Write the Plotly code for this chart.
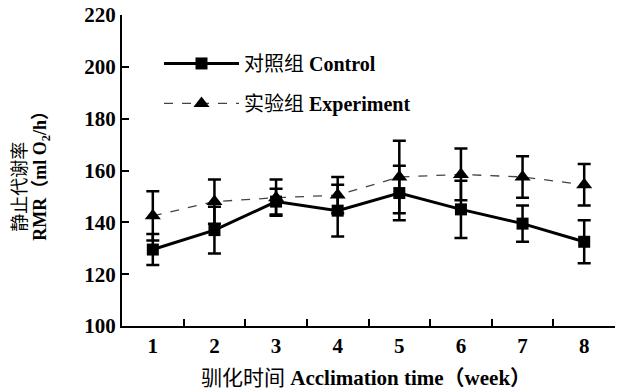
import plotly.graph_objects as go

weeks = ["1", "2", "3", "4", "5", "6", "7", "8"]
control = [129.5, 137.0, 148.0, 144.5, 151.3, 145.0, 139.5, 132.5]
control_err = [6.0, 9.0, 5.0, 10.0, 10.5, 11.0, 7.0, 8.3]
experiment = [142.5, 148.0, 149.5, 150.5, 157.5, 158.5, 157.5, 154.5]
experiment_err = [9.5, 8.5, 7.0, 7.0, 14.0, 10.0, 8.0, 8.0]
y_ticks = [100, 120, 140, 160, 180, 200, 220]

FONT = "Liberation Serif, Noto Sans CJK SC, serif"

W, H = 624, 392
L, T = 122, 15
R = W - 615
B = H - 326.5
pw = W - L - R
ph = H - T - B


def px(xp):
    return (xp - L) / pw


def py(yp):
    return 1 - (yp - T) / ph


fig = go.Figure()
fig.add_trace(go.Scatter(
    x=weeks, y=experiment, name="实验组 <b>Experiment</b>", mode="lines+markers",
    line=dict(color="#444444", width=1.3, dash="dash"),
    marker=dict(symbol="triangle-up", size=14, color="black"),
    error_y=dict(type="data", array=experiment_err, visible=True, color="black", thickness=2.5, width=6.5),
    legendrank=2, legendgroup="b",
))
fig.add_trace(go.Scatter(
    x=weeks, y=control, name="对照组 <b>Control</b>", mode="lines+markers",
    line=dict(color="black", width=3),
    marker=dict(symbol="square", size=12, color="black"),
    error_y=dict(type="data", array=control_err, visible=True, color="black", thickness=2.5, width=6.5),
    legendrank=1, legendgroup="a",
))

fig.update_layout(
    width=W, height=H,
    margin=dict(l=L, r=R, t=T, b=B),
    paper_bgcolor="white", plot_bgcolor="white",
    font=dict(family=FONT, size=18, color="black"),
    showlegend=True,
    legend=dict(x=px(159), y=py(44), xanchor="left", yanchor="top",
                bgcolor="rgba(0,0,0,0)", tracegroupgap=11, itemwidth=75,
                font=dict(size=20, family=FONT), traceorder="grouped"),
    xaxis=dict(type="category", range=[-0.5, 7.5], tickson="boundaries",
               ticks="inside", ticklen=7, tickwidth=1.5, tickcolor="black",
               showline=True, linecolor="black", linewidth=2, showgrid=False,
               zeroline=False, automargin=False,
               tickfont=dict(size=21, family=FONT, weight="bold")),
    yaxis=dict(range=[100, 220], tickvals=y_ticks,
               ticks="inside", ticklen=7, tickwidth=1.5, tickcolor="black",
               showline=True, linecolor="black", linewidth=2, showgrid=False,
               zeroline=False, automargin=False,
               tickfont=dict(size=21, family=FONT, weight="bold")),
    annotations=[
        dict(text="驯化时间 <b>Acclimation time（week）</b>", xref="paper", yref="paper",
             x=px(366), y=py(379), xanchor="center", yanchor="middle",
             showarrow=False, font=dict(size=21, family=FONT)),
        dict(text="静止代谢率", xref="paper", yref="paper",
             x=px(20), y=py(187), xanchor="center", yanchor="middle",
             textangle=-90, showarrow=False, font=dict(size=18, family=FONT)),
        dict(text="<b>RMR（ml O<sub>2</sub>/h）</b>", xref="paper", yref="paper",
             x=px(42), y=py(172), xanchor="center", yanchor="middle",
             textangle=-90, showarrow=False, font=dict(size=18, family=FONT)),
    ],
)

fig.write_html("out.html", config={"displayModeBar": False},
               post_script="document.body.style.margin='0px';")
